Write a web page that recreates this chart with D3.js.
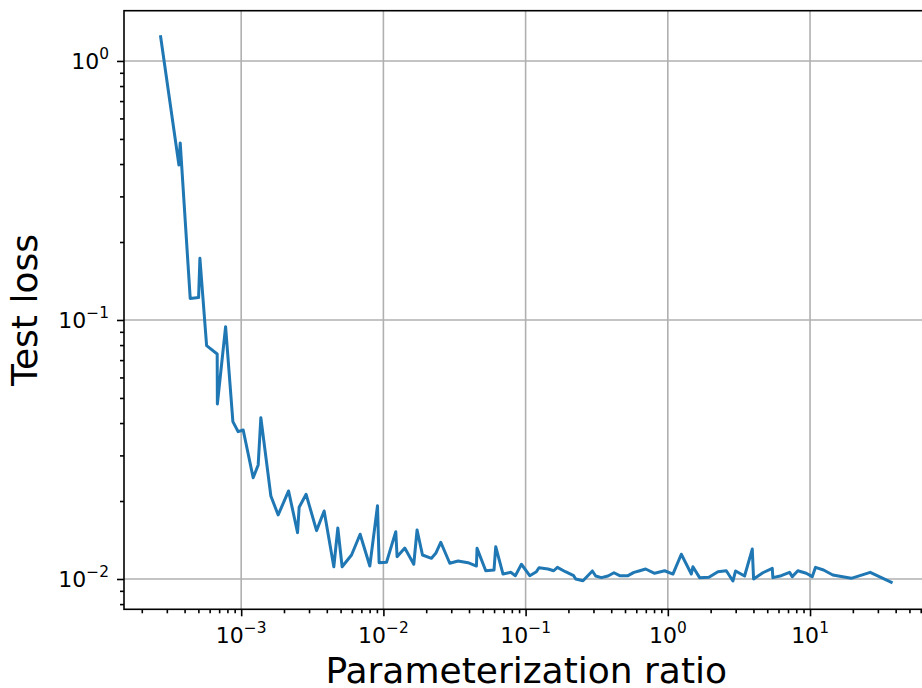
<!DOCTYPE html>
<html><head><meta charset="utf-8">
<script src="https://cdn.jsdelivr.net/npm/d3@7"></script>
<style>
body{margin:0;background:#fff}
text{font-family:"DejaVu Sans",sans-serif;fill:#000}
</style>
</head><body>
<svg id="c" width="922" height="688"></svg>
<script>
// ---- data ----
const ratio = [
 2.714e-4, 3.649e-4, 3.727e-4, 4.381e-4, 5.018e-4, 5.126e-4, 5.713e-4, 6.781e-4, 6.80e-4, 7.770e-4,
 8.744e-4, 9.526e-4, 1.033e-3, 1.214e-3, 1.317e-3, 1.375e-3, 1.617e-3, 1.820e-3, 2.154e-3, 2.491e-3,
 2.556e-3, 2.862e-3, 3.388e-3, 3.831e-3, 4.481e-3, 4.781e-3, 5.126e-3, 5.970e-3, 6.861e-3, 8.026e-3,
 9.090e-3, 9.329e-3, 1.052e-2, 1.222e-2, 1.248e-2, 1.414e-2, 1.635e-2, 1.725e-2, 1.883e-2, 2.178e-2,
 2.334e-2, 2.532e-2, 2.929e-2, 3.350e-2, 3.937e-2, 4.511e-2, 4.555e-2, 5.243e-2, 5.995e-2, 6.163e-2,
 6.937e-2, 7.857e-2, 8.478e-2, 9.344e-2, 0.1069, 0.1191, 0.1242, 0.1437, 0.1576, 0.1673,
 0.1904, 0.2178, 0.2250, 0.2532, 0.2948, 0.3110, 0.3410, 0.3795, 0.4180, 0.4585,
 0.5243, 0.5778, 0.6265, 0.6982, 0.8077, 0.9495, 1.086, 1.244, 1.463, 1.501,
 1.673, 1.945, 2.250, 2.577, 2.868, 2.996, 3.465, 3.925, 4.009, 4.659,
 5.425, 5.478, 6.275, 7.178, 7.498, 8.211, 9.404, 10.36, 10.93, 12.44,
 14.46, 19.48, 26.49, 37.21
];
const testLoss = [
 1.241, 0.3967, 0.4824, 0.1211, 0.1220, 0.1730, 0.07958, 0.07390, 0.04739, 0.09421,
 0.04050, 0.03704, 0.03761, 0.02461, 0.02756, 0.04196, 0.02092, 0.01767, 0.02187, 0.01510,
 0.01891, 0.02123, 0.01537, 0.01830, 0.01115, 0.01574, 0.01115, 0.01238, 0.01489, 0.01122,
 0.01919, 0.01156, 0.01160, 0.01523, 0.01219, 0.01317, 0.01140, 0.01546, 0.01238, 0.01202,
 0.01256, 0.01386, 0.01150, 0.01173, 0.01156, 0.01122, 0.01313, 0.01076, 0.01083, 0.01332,
 0.01045, 0.01061, 0.01030, 0.01140, 0.01030, 0.01067, 0.01105, 0.01093, 0.01076, 0.01109,
 0.01067, 0.01030, 0.01000, 0.00985, 0.01074, 0.01027, 0.01012, 0.01027, 0.01057, 0.01030,
 0.01030, 0.01061, 0.01074, 0.01093, 0.01052, 0.01076, 0.01045, 0.01246, 0.01045, 0.01115,
 0.01012, 0.01015, 0.01067, 0.01076, 0.00982, 0.01074, 0.01027, 0.01305, 0.01000, 0.01057,
 0.01100, 0.01012, 0.01030, 0.01061, 0.01021, 0.01076, 0.01052, 0.01021, 0.01109, 0.01083,
 0.01036, 0.01006, 0.01061, 0.00971
];
const xTickExps = [-3, -2, -1, 0, 1];
const yTickExps = [-2, -1, 0];
const xLabel = "Parameterization ratio";
const yLabel = "Test loss";

// ---- layout ----
const W = 922, H = 688;
const L = 124, T = 10.7, R = 928.5, B = 609.3;
const svg = d3.select("#c");

const x = d3.scaleLog().domain([Math.pow(10, -3.824), Math.pow(10, 1.833)]).range([L, R]);
const y = d3.scaleLog().domain([Math.pow(10, -2.117), Math.pow(10, 0.194)]).range([B, T]);

function minors(scale) {
  const [a, b] = scale.domain();
  const out = [];
  for (let e = Math.floor(Math.log10(a)); e <= Math.ceil(Math.log10(b)); e++) {
    for (let k = 2; k <= 9; k++) {
      const v = k * Math.pow(10, e);
      if (v >= a && v <= b) out.push(v);
    }
  }
  return out;
}
const xMaj = xTickExps.map(e => Math.pow(10, e));
const yMaj = yTickExps.map(e => Math.pow(10, e));

// grid
const grid = svg.append("g");
grid.selectAll(".gx").data(xMaj).enter().append("line")
  .attr("x1", d => x(d)).attr("x2", d => x(d)).attr("y1", T).attr("y2", B)
  .attr("stroke", "#b0b0b0").attr("stroke-width", 1.6);
grid.selectAll(".gy").data(yMaj).enter().append("line")
  .attr("y1", d => y(d)).attr("y2", d => y(d)).attr("x1", L).attr("x2", R)
  .attr("stroke", "#b0b0b0").attr("stroke-width", 1.6);

// data line
const pts = ratio.map((r, i) => [r, testLoss[i]]);
svg.append("path").datum(pts)
  .attr("fill", "none").attr("stroke", "#1f77b4").attr("stroke-width", 3)
  .attr("stroke-linejoin", "round").attr("stroke-linecap", "square")
  .attr("d", d3.line().x(d => x(d[0])).y(d => y(d[1])));

// axes (ticks only)
function styleAxis(g) {
  g.select(".domain").remove();
  g.selectAll(".tick line").attr("stroke", "#000").attr("stroke-width", 1.6);
  g.selectAll(".tick text").remove();
}
svg.append("g").attr("transform", `translate(0,${B})`)
  .call(d3.axisBottom(x).tickValues(xMaj).tickSize(7).tickFormat(""))
  .call(styleAxis);
svg.append("g").attr("transform", `translate(0,${B})`)
  .call(d3.axisBottom(x).tickValues(minors(x)).tickSize(4).tickFormat(""))
  .call(styleAxis);
svg.append("g").attr("transform", `translate(${L},0)`)
  .call(d3.axisLeft(y).tickValues(yMaj).tickSize(7).tickFormat(""))
  .call(styleAxis);
svg.append("g").attr("transform", `translate(${L},0)`)
  .call(d3.axisLeft(y).tickValues(minors(y)).tickSize(4).tickFormat(""))
  .call(styleAxis);

// spines
svg.append("rect").attr("x", L).attr("y", T).attr("width", R - L).attr("height", B - T)
  .attr("fill", "none").attr("stroke", "#000").attr("stroke-width", 1.6);

// tick labels with superscripts
const FS = 22;
function powLabel(sel, e) {
  sel.append("tspan").text("10");
  sel.append("tspan").attr("font-size", FS * 0.7).attr("dy", -FS * 0.45)
    .text(e < 0 ? "\u2212" + Math.abs(e) : String(e));
}
xTickExps.forEach(e => {
  const t = svg.append("text").attr("x", x(Math.pow(10, e))).attr("y", 643)
    .attr("text-anchor", "middle").attr("font-size", FS);
  powLabel(t, e);
});
yTickExps.forEach(e => {
  const t = svg.append("text").attr("x", 109).attr("y", y(Math.pow(10, e)) + 8)
    .attr("text-anchor", "end").attr("font-size", FS);
  powLabel(t, e);
});

// axis titles
svg.append("text").attr("x", (L + R) / 2).attr("y", 683).attr("text-anchor", "middle")
  .attr("font-size", 36).text(xLabel);
svg.append("text").attr("transform", `translate(37,${(T + B) / 2}) rotate(-90)`)
  .attr("text-anchor", "middle").attr("font-size", 36).text(yLabel);
</script>
</body></html>
